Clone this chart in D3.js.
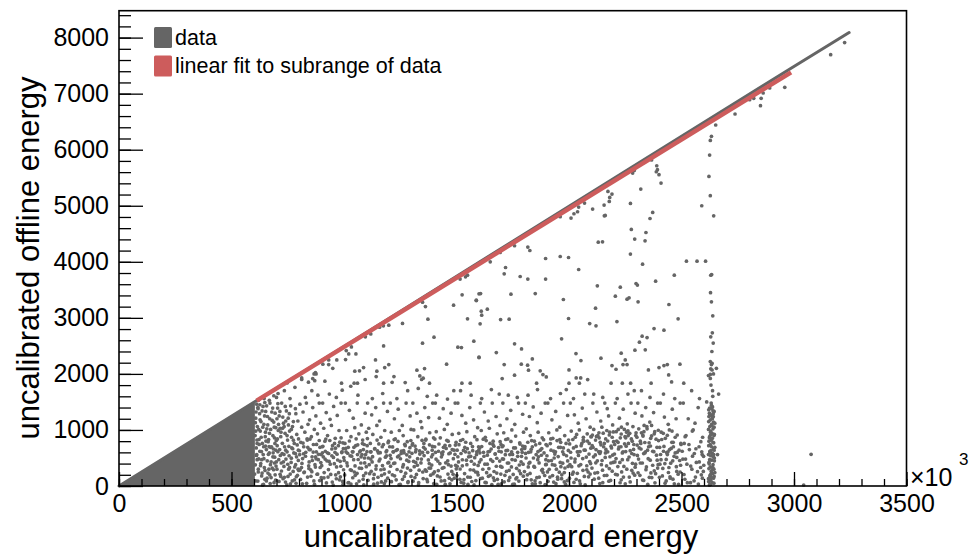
<!DOCTYPE html>
<html><head><meta charset="utf-8">
<script src="https://cdn.jsdelivr.net/npm/d3@7"></script>
<style>
body{margin:0;background:#fff}
svg{display:block}
text{font-family:"Liberation Sans",Arial,Helvetica,sans-serif;fill:#000}
</style>
</head><body>
<svg id="chart" width="969" height="556"></svg>
<script>
// ---------------- data ----------------
const xMajorTicks = [0,500,1000,1500,2000,2500,3000,3500];
const yMajorTicks = [0,1000,2000,3000,4000,5000,6000,7000,8000];
const xDomain = [0,3500];
const yDomain = [0,8480];
const legendLabels = ["data","linear fit to subrange of data"];
const xTitle = "uncalibrated onboard energy";
const yTitle = "uncalibrated offline energy";

// overplotted solid region of points (x < ~600)
const denseTriangle = [[0,0],[604,1507],[604,0]];
// dense ridge of points along the diagonal
const diagonalRidge = [[0,0],[612,1527],[1000,2490],[1650,4115],[2300,5740],[2987,7452],[3245,8090]];
// linear fit (subrange)
const fitLine = [[612,1524],[2987,7381]];

const upperScatter = [
[3225,7911],[3163,7696],[2959,7113],[2892,7101],[2851,6786],[2854,6916],[2863,7012],[2803,6893],[2821,6916],[2738,6637],[2652,6441],[2633,6238],[2628,6166],[2625,5905],[2622,5523],[2628,5179],[2590,5000],[2643,4821],[2607,4012],[2569,4012],[2522,4012],[2634,3773],[2630,3760],[2468,3762],
[2390,5714],[2393,5643],[2388,5607],[2400,5554],[2409,5405],[2367,5816],[2283,5583],[2290,5630],[2319,5298],[2273,5041],[2372,4881],[2360,4773],[2277,4577],[2342,4523],[2292,4405],[2338,4375],[2273,4137],[2327,3958],
[2173,5256],[2191,5208],[2181,5148],[2179,5077],[2156,5012],[2157,4821],[2161,4827],[2105,4941],[2069,5048],[2043,4976],[2038,4893],[2022,4857],[2009,4780],[1961,4804],[2130,4351],[2149,4357],[1817,4262],[1826,4202],[1896,4059],[1961,4095],[1998,4077],[2043,3863],[1718,3898],[1712,3786],[1758,4286],[1650,4000],[1694,4166],[1783,3738],[1817,3691],[1896,3691],
[1516,3691],[1540,3732],[1549,3762],[1525,3411],[1487,3226],[1588,3309],[1549,2982],[1600,3429],[1362,3202],[1349,3280],[1373,2976],[1400,2655],[1349,2548],[1506,2476],[1522,2470],[1577,2583],[1600,2298],[1456,2173],[1176,2500],[1199,2869],[1175,2857],[1158,2834],[1119,2714],[1095,2661],[1033,2482],[1053,2357],[1010,2417],[1021,2357],[968,2250],[1007,2256],[932,2250],[932,2166],[906,2173],[873,2023],[867,2000],[1087,2113],[1069,2054],[1048,2048],[1181,2113],[1199,2166],[1146,2048],[1143,1952],[1222,1952],[1324,2066],[1358,2095],[1337,1964],[1352,1923],[812,1929],[842,1852],[861,1916],[876,2000],[989,1834],[1045,1834],[1060,1834],[1176,1834],[1272,1845],[1380,1834],[1524,1834],[1561,1834],
[2385,3655],[1588,3316],[1607,3434],[1742,3423],[1850,3434],[1975,3327],[2126,3571],[2228,3548],[2298,3613],[2304,3584],[2206,3387],[2258,3334],[2267,3357],[2307,3286],[2444,3238],[2633,3286],[1610,3119],[1612,3048],[1637,3155],[1696,2970],[1734,2976],[1605,2893],[1998,2988],[2118,3173],[2092,2898],[2120,2857],[2213,2934],[2378,2809],[2422,2780],[2485,2982],[2639,3036],[2637,2732],[2630,2661],[1758,2536],[1789,2446],[1967,2625],[2325,2673],[2347,2648],[2313,2566],[2293,2423],[2339,2429],[1677,2381],[1600,2291],[1837,2268],[1712,2166],[1788,2173],[1816,2155],[1820,2066],[1758,1977],[1703,1916],[1872,2054],[1884,1988],[1899,1946],[2031,2363],[2053,2238],[2142,2280],[2000,2071],[2232,2370],[2250,2250],[2240,2166],[2258,2166],[2191,2148],[2209,2083],[2353,2071],[2400,2113],[2422,2148],[2437,2166],[2493,2173],[2443,1982],[2456,1857],[2628,2220],[2633,2166],[2636,2070],[2655,2100],[2620,1970],[2628,1990],[2032,1929],[2052,1929],[2083,1898],[1856,1834],[2000,1834],[2046,1834],[2187,1834],[2237,1834],[2274,1834],[2365,1834],[2510,1834]
];

const lowerBand = [
[612,1460],[618,1380],[625,1290],[608,1210],[631,1150],[640,1420],[652,1330],[660,1240],[671,1480],[683,1390],[694,1300],[615,1060],[628,980],[644,1100],[657,1020],[669,940],[681,1170],[690,1050],[605,900],[622,830],[637,760],[650,880],[663,790],[678,700],[691,860],[610,680],[626,620],[641,560],[655,650],[668,590],[684,520],[697,640],[614,470],[630,400],[646,330],[659,450],[673,380],[687,290],[699,430],[619,250],[634,180],[648,120],[662,230],[676,150],[689,60],[607,90],[642,30],[666,300],[694,200],[700,1580],[688,1610],[620,1530],[645,1560],
[705,1390],[712,1250],[723,1480],[731,1120],[744,1340],[752,1210],[763,1430],[771,1060],[786,1290],[795,1160],[708,990],[719,880],[727,1030],[738,940],[749,820],[758,980],[767,870],[779,760],[790,920],[798,840],[703,720],[714,650],[725,580],[736,700],[747,610],[756,540],[768,680],[777,590],[789,520],[797,640],[710,470],[721,410],[733,350],[742,480],[754,300],[765,420],[774,260],[785,380],[793,190],[716,210],[729,130],[740,70],[751,170],[762,40],[780,110],[796,300],[707,1650],[735,1700],[760,1560],[782,1760],[748,1840],
[804,1460],[818,1320],[833,1480],[847,1180],[861,1400],[875,1250],[890,1480],[812,1050],[826,960],[840,1100],[855,880],[868,1010],[882,930],[896,1120],[808,780],[821,700],[837,820],[850,650],[864,740],[877,610],[893,690],[803,560],[816,490],[830,600],[845,430],[858,520],[871,380],[886,470],[899,560],[811,330],[824,250],[838,160],[852,290],[866,90],[880,210],[894,330],[815,40],[843,360],[874,520],[828,1580],[857,1700],[884,1620],[870,1880],[812,1900],
[905,1480],[921,1310],[938,1190],[954,1420],[970,1260],[987,1480],[910,1030],[927,900],[944,1080],[961,850],[978,990],[995,770],[903,700],[917,620],[932,580],[946,660],[960,600],[975,720],[991,610],[908,520],[924,450],[939,390],[953,510],[967,340],[983,440],[998,290],[912,240],[929,160],[948,70],[963,200],[980,110],[996,30],[915,800],[958,760],[987,860],[935,1640],[966,1580],[992,1710],[950,2100],[915,1870],
[1006,1480],[1024,1350],[1041,1210],[1059,1480],[1077,1090],[1094,1300],[1012,990],[1031,880],[1048,1040],[1066,930],[1083,820],[1099,960],[1004,760],[1019,690],[1037,610],[1052,720],[1070,610],[1086,650],[1009,610],[1027,540],[1043,470],[1060,560],[1075,410],[1091,500],[1015,360],[1033,280],[1050,190],[1068,320],[1085,120],[1097,230],[1021,60],[1056,40],[1040,610],[1080,560],[1090,740],[1062,1620],[1030,1780],[1094,1900],
[1105,1480],[1123,1270],[1141,1400],[1158,1160],[1176,1480],[1193,1330],[1110,1030],[1128,920],[1146,1080],[1164,870],[1181,990],[1198,800],[1103,720],[1120,610],[1136,660],[1153,590],[1170,700],[1187,610],[1108,500],[1125,430],[1143,360],[1160,480],[1178,300],[1195,410],[1114,220],[1131,130],[1149,50],[1167,190],[1185,90],[1118,610],[1155,750],[1189,540],[1126,1560],[1172,1650],[1140,2250],
[1206,1480],[1224,1200],[1241,1370],[1259,1080],[1276,1480],[1294,1250],[1210,960],[1228,840],[1246,990],[1263,900],[1281,790],[1298,1010],[1203,700],[1220,610],[1237,650],[1254,580],[1272,720],[1289,610],[1209,490],[1226,410],[1244,540],[1261,340],[1279,460],[1296,280],[1215,200],[1232,110],[1250,30],[1268,170],[1285,80],[1218,610],[1265,630],[1292,520],[1235,1560],[1283,1700],[1260,2900],[1214,1850],
[1306,1480],[1324,1300],[1341,1150],[1359,1400],[1376,1220],[1394,1480],[1310,1000],[1328,880],[1346,1040],[1363,820],[1381,950],[1398,860],[1303,730],[1320,650],[1337,570],[1354,690],[1372,600],[1389,520],[1309,440],[1326,370],[1344,480],[1361,290],[1379,400],[1396,220],[1315,150],[1332,60],[1350,250],[1368,120],[1385,320],[1318,610],[1355,760],[1392,640],[1330,1740],[1370,1600],[1345,1900],
[1406,1480],[1424,1210],[1441,1380],[1459,1100],[1476,1300],[1494,1480],[1410,970],[1428,860],[1446,1010],[1463,800],[1481,920],[1498,780],[1403,700],[1420,620],[1437,560],[1454,670],[1472,590],[1489,640],[1409,480],[1426,400],[1444,330],[1461,450],[1479,260],[1496,370],[1415,180],[1432,90],[1450,30],[1468,140],[1485,210],[1440,610],[1470,720],[1412,1620],[1460,1550],[1488,1700],
[1506,1480],[1524,1260],[1541,1120],[1559,1400],[1576,1180],[1594,1040],[1510,940],[1528,830],[1546,970],[1563,760],[1581,880],[1598,700],[1503,640],[1520,580],[1537,690],[1554,520],[1572,630],[1589,560],[1509,430],[1526,360],[1544,460],[1561,290],[1579,390],[1596,200],[1515,120],[1532,50],[1550,160],[1568,80],[1585,250],[1540,610],[1590,610],[1518,1700],[1565,1620],
[1606,1480],[1624,1320],[1641,1160],[1659,1480],[1676,1240],[1694,1080],[1610,990],[1628,870],[1646,1030],[1663,800],[1681,930],[1698,740],[1603,680],[1620,600],[1637,550],[1654,660],[1672,570],[1689,620],[1609,470],[1626,390],[1644,310],[1661,440],[1679,230],[1696,350],[1615,140],[1632,60],[1650,190],[1668,100],[1685,30],[1640,610],[1666,710],[1612,1560],[1655,1720],[1690,1640],
[1706,1480],[1724,1200],[1741,1350],[1759,1100],[1776,1480],[1794,1280],[1710,950],[1728,840],[1746,1000],[1763,890],[1781,770],[1798,960],[1703,700],[1720,630],[1737,560],[1754,680],[1772,600],[1789,530],[1709,480],[1726,410],[1744,340],[1761,460],[1779,270],[1796,390],[1715,190],[1732,100],[1750,30],[1768,150],[1785,220],[1745,610],[1790,650],[1730,1620],[1770,1580],
[1806,1480],[1824,1240],[1841,1410],[1859,1130],[1876,1300],[1894,1480],[1810,1020],[1828,900],[1846,800],[1863,960],[1881,860],[1898,740],[1803,670],[1820,600],[1837,700],[1854,560],[1872,640],[1889,590],[1809,500],[1826,420],[1844,350],[1861,470],[1879,280],[1896,380],[1815,200],[1832,110],[1850,40],[1868,160],[1885,240],[1830,610],[1870,760],[1818,1620],[1860,1720],
[1906,1480],[1924,1180],[1941,1330],[1959,1050],[1976,1480],[1994,1260],[1910,950],[1928,850],[1946,1000],[1963,780],[1981,900],[1998,820],[1903,720],[1920,640],[1937,570],[1954,690],[1972,610],[1989,540],[1909,450],[1926,380],[1944,300],[1961,420],[1979,240],[1996,350],[1915,160],[1932,70],[1950,120],[1968,200],[1985,30],[1940,610],[1975,680],[1918,1560],[1962,1650],[1988,1720],
[2006,1480],[2024,1270],[2041,1120],[2059,1390],[2076,1200],[2094,1050],[2010,980],[2028,870],[2046,1000],[2063,820],[2081,930],[2098,880],[2003,750],[2020,680],[2037,610],[2054,720],[2072,640],[2089,570],[2009,500],[2026,430],[2044,360],[2061,490],[2079,290],[2096,400],[2015,210],[2032,120],[2050,40],[2068,170],[2085,250],[2040,610],[2066,800],[2090,760],[2020,1560],[2070,1640],
[2106,1480],[2124,1320],[2141,1160],[2159,1480],[2176,1250],[2194,1090],[2110,1010],[2128,900],[2146,1050],[2163,840],[2181,960],[2198,790],[2103,720],[2120,650],[2137,580],[2154,700],[2172,610],[2189,680],[2109,520],[2126,450],[2144,380],[2161,510],[2179,310],[2196,420],[2115,230],[2132,140],[2150,60],[2168,190],[2185,100],[2140,610],[2118,820],[2157,760],[2192,870],[2133,950],[2170,1380],[2110,1640],[2150,1580],
[2206,1480],[2224,1210],[2241,1370],[2259,1110],[2276,1480],[2294,1300],[2210,970],[2228,860],[2246,1010],[2263,900],[2281,800],[2298,950],[2203,740],[2220,660],[2237,590],[2254,710],[2272,630],[2289,560],[2209,490],[2226,420],[2244,350],[2261,470],[2279,280],[2296,390],[2215,200],[2232,110],[2250,40],[2268,160],[2285,230],[2240,610],[2218,780],[2252,860],[2288,740],[2233,1050],[2270,940],[2214,1560],[2262,1640],[2290,1700],
[2306,1480],[2324,1250],[2341,1400],[2359,1140],[2376,1310],[2394,1480],[2310,1020],[2328,910],[2346,1060],[2363,850],[2381,970],[2398,810],[2303,730],[2320,660],[2337,590],[2354,700],[2372,620],[2389,550],[2309,480],[2326,410],[2344,340],[2361,460],[2379,270],[2396,380],[2315,190],[2332,100],[2350,30],[2368,150],[2385,220],[2340,610],[2317,800],[2356,770],[2391,690],[2333,970],[2367,1080],[2322,1700],[2360,1580],
[2406,1480],[2424,1230],[2441,1100],[2459,1370],[2476,1200],[2494,1480],[2410,960],[2428,850],[2446,1000],[2463,780],[2481,910],[2498,740],[2403,690],[2420,620],[2437,560],[2454,670],[2472,590],[2489,640],[2409,470],[2426,400],[2444,330],[2461,450],[2479,260],[2496,370],[2415,180],[2432,90],[2450,140],[2468,40],[2485,210],[2440,610],[2420,1640],[2470,1560],
[2508,1480],[2530,1200],[2552,1000],[2574,1400],[2594,870],[2512,760],[2535,650],[2557,580],[2578,700],[2598,530],[2506,480],[2524,390],[2546,300],[2566,420],[2588,200],[2515,120],[2540,60],[2562,160],[2585,330],[2520,900],[2560,1120],[2545,1700],[2580,1560],[2597,260],[2590,610]
];

// extra points filling the crowded band below ~850
const lowerBandDense = [
[603,212],[611,545],[617,88],[623,742],[629,361],[633,615],[638,19],[644,488],[649,277],[653,801],[658,140],[664,566],[667,702],[672,45],[676,431],[681,318],[686,660],[692,515],[696,104],[699,812],[606,377],[621,483],[636,230],[651,712],[670,197],[685,592],[698,356],[613,821],
[702,301],[706,613],[711,82],[717,544],[722,268],[726,761],[731,432],[735,155],[741,640],[746,22],[750,388],[755,707],[761,213],[766,497],[770,90],[775,818],[781,341],[784,579],[788,165],[792,733],[797,456],[704,839],[719,171],[733,564],[758,331],[772,665],[787,49],[799,277],
[802,629],[807,117],[813,402],[818,766],[822,239],[829,531],[834,48],[839,690],[844,312],[849,838],[853,174],[859,455],[863,605],[869,29],[873,338],[878,742],[883,213],[887,566],[892,96],[897,418],[805,288],[820,575],[836,842],[857,256],[876,484],[890,812],[899,150],[845,650],
[901,362],[906,707],[911,145],[916,481],[922,55],[926,593],[931,293],[937,812],[941,207],[946,540],[952,15],[957,398],[962,674],[966,129],[972,464],[976,237],[981,782],[986,352],[990,596],[994,81],[999,507],[904,593],[919,838],[934,438],[949,719],[969,568],[984,163],[997,666],
[1003,198],[1008,672],[1013,412],[1018,58],[1024,803],[1028,290],[1034,533],[1039,147],[1044,690],[1049,359],[1054,842],[1058,226],[1063,473],[1067,88],[1073,629],[1078,315],[1082,757],[1087,184],[1092,411],[1096,560],[1001,455],[1016,584],[1031,36],[1046,250],[1061,735],[1076,520],[1088,22],[1099,345],
[1102,612],[1107,102],[1112,380],[1117,760],[1121,261],[1127,524],[1132,33],[1137,669],[1142,302],[1147,820],[1151,156],[1156,448],[1161,594],[1166,72],[1171,365],[1175,739],[1180,218],[1184,515],[1190,631],[1194,140],[1199,420],[1104,846],[1119,480],[1134,206],[1149,626],[1164,290],[1179,43],[1196,772],
[1201,248],[1205,547],[1211,77],[1216,698],[1221,402],[1225,181],[1231,633],[1236,294],[1240,796],[1245,26],[1251,486],[1255,621],[1260,119],[1264,380],[1270,744],[1274,229],[1279,557],[1284,61],[1288,439],[1293,684],[1298,170],[1207,353],[1223,828],[1238,521],[1253,262],[1267,591],[1282,320],[1297,812],
[1302,583],[1307,86],[1312,344],[1316,712],[1322,207],[1327,488],[1331,20],[1336,626],[1342,411],[1347,815],[1352,132],[1356,543],[1361,658],[1366,264],[1371,78],[1375,466],[1380,735],[1385,193],[1390,374],[1394,560],[1399,45],[1305,755],[1319,420],[1334,283],[1349,600],[1364,836],[1378,320],[1393,706],
[1402,252],[1407,601],[1412,30],[1417,444],[1422,749],[1427,161],[1433,520],[1437,318],[1442,690],[1447,95],[1452,413],[1457,815],[1462,212],[1466,575],[1471,39],[1476,355],[1481,650],[1486,488],[1490,140],[1495,731],[1499,307],[1404,838],[1419,275],[1434,587],[1449,725],[1464,380],[1479,110],[1493,566],
[1501,190],[1506,522],[1511,738],[1516,303],[1521,64],[1526,468],[1531,635],[1536,222],[1541,781],[1546,381],[1551,28],[1556,592],[1561,156],[1566,442],[1571,703],[1576,285],[1581,505],[1586,96],[1591,826],[1596,367],[1599,640],[1503,352],[1518,812],[1533,115],[1548,666],[1563,530],[1578,20],[1593,245],
[1602,426],[1607,133],[1612,705],[1617,299],[1622,531],[1627,64],[1632,810],[1637,390],[1642,172],[1647,619],[1652,470],[1657,27],[1662,742],[1667,259],[1672,575],[1677,352],[1682,119],[1687,685],[1692,445],[1697,212],[1604,592],[1619,835],[1634,238],[1649,760],[1664,145],[1679,495],[1694,790],[1699,40],
[1702,336],[1707,718],[1712,74],[1717,559],[1722,260],[1727,637],[1732,410],[1737,153],[1742,796],[1747,472],[1752,207],[1757,33],[1762,680],[1767,315],[1772,529],[1777,88],[1782,748],[1787,431],[1792,601],[1797,176],[1704,483],[1719,830],[1734,280],[1749,564],[1764,128],[1779,375],[1794,712],[1699,610],
[1802,258],[1807,582],[1812,112],[1817,781],[1822,406],[1827,225],[1832,655],[1837,39],[1842,500],[1847,336],[1852,735],[1857,148],[1862,612],[1867,412],[1872,60],[1877,549],[1882,299],[1887,827],[1892,187],[1897,470],[1804,704],[1819,340],[1834,810],[1849,94],[1864,520],[1879,668],[1894,27],[1899,385],
[1902,540],[1907,83],[1912,298],[1917,757],[1922,454],[1927,186],[1932,622],[1937,372],[1942,41],[1947,810],[1952,525],[1957,247],[1962,690],[1967,131],[1972,408],[1977,566],[1982,321],[1987,760],[1992,95],[1997,634],[1904,251],[1919,840],[1934,500],[1949,158],[1964,345],[1979,72],[1994,447],[1959,830],
[2002,139],[2007,602],[2012,345],[2017,830],[2022,64],[2027,480],[2032,706],[2037,226],[2042,545],[2047,91],[2052,382],[2057,760],[2062,279],[2067,641],[2072,19],[2077,516],[2082,802],[2087,164],[2092,437],[2097,675],[2004,384],[2019,247],[2034,920],[2049,615],[2064,870],[2079,361],[2094,212],[2099,880],
[2102,320],[2107,688],[2112,121],[2117,555],[2122,884],[2127,240],[2132,612],[2137,44],[2142,735],[2147,455],[2152,942],[2157,187],[2162,590],[2167,358],[2172,803],[2177,86],[2182,522],[2187,711],[2192,265],[2197,965],[2104,910],[2119,413],[2134,860],[2149,282],[2164,652],[2179,910],[2194,552],[2139,780],[2168,990],[2186,410],
[2202,571],[2207,208],[2212,802],[2217,347],[2222,695],[2227,58],[2232,928],[2237,469],[2242,160],[2247,752],[2252,615],[2257,301],[2262,985],[2267,517],[2272,73],[2277,840],[2282,405],[2287,652],[2292,194],[2297,900],[2204,430],[2219,1010],[2234,251],[2249,880],[2264,760],[2279,580],[2294,335],[2231,700],[2256,960],[2284,1060],
[2302,870],[2307,236],[2312,680],[2317,410],[2322,950],[2327,107],[2332,578],[2337,776],[2342,292],[2347,1020],[2352,488],[2357,155],[2362,714],[2367,894],[2372,370],[2377,612],[2382,57],[2387,835],[2392,460],[2397,995],[2304,545],[2319,760],[2334,1080],[2349,640],[2364,234],[2379,930],[2394,320],[2329,890],
[2402,155],[2407,562],[2412,830],[2417,314],[2422,706],[2427,51],[2432,475],[2437,905],[2442,241],[2447,650],[2452,408],[2457,780],[2462,122],[2467,530],[2472,870],[2477,345],[2482,605],[2487,30],[2492,455],[2497,760],[2404,390],[2419,940],[2434,598],[2449,165],[2464,700],[2479,510],[2494,250],[2458,980],
[2503,620],[2511,205],[2518,480],[2526,60],[2533,740],[2541,355],[2549,532],[2556,92],[2564,665],[2571,255],[2579,430],[2586,790],[2593,140],[2599,370],[2516,880],[2548,980],[2575,35],[2592,560]
];

// crowded strip just right of the solid region
const triangleEdge = [
[606,1130],[609,1320],[614,760],[617,1400],[621,1010],[627,1180],[632,870],[636,1340],[639,1050],[643,700],[647,1250],[651,960],[656,1430],[661,1090],[665,830],[670,1200],[674,1010],[679,1320],[684,900],[688,1140],[693,760],[697,1040],[702,1200],[709,1100],[715,1330],[720,960],[728,1230],[734,1060],[741,1160],[747,900],[757,1290],[766,1010],[775,1150],[784,1380],[608,980],[626,1450],[648,1490],[668,1530],[612,560],[619,300],[634,470],[655,90],[674,690],[691,410],[706,1470],[716,1030],[739,1420],[753,1090]
];

const columnPoints = [
[2624,20],[2636,60],[2630,100],[2642,140],[2626,180],[2638,220],[2632,260],[2644,300],[2628,340],[2640,380],[2622,420],[2634,460],[2646,500],[2630,540],[2638,580],[2626,620],[2642,660],[2634,700],[2628,740],[2640,780],[2632,820],[2624,860],[2644,900],[2636,940],[2630,980],[2640,1020],[2626,1060],[2634,1100],[2642,1140],[2628,1180],[2638,1220],[2632,1260],[2624,1300],[2640,1340],[2634,1380],[2644,50],[2620,130],[2648,240],[2622,310],[2646,450],[2620,560],[2648,690],[2622,800],[2646,920],[2620,1010],[2648,1120],[2622,1240],[2632,1480],[2638,1700],[2628,1920],[2642,2000],[2630,2090],[2636,2190],[2660,560],[2665,1640],[2612,1500],
[2621,80],[2645,170],[2629,205],[2637,290],[2623,395],[2641,520],[2627,600],[2645,640],[2621,720],[2637,850],[2629,960],[2645,1050],[2621,1150],[2637,1200],[2627,1280],[2645,1330],[2621,1360],[2638,1410],[2629,30],[2643,560],[2625,880],[2641,1240],
[2627,30],[2633,150],[2639,330],[2625,470],[2631,630],[2643,770],[2629,910],[2635,1080],[2641,1290],[2625,1390],[2633,1440],[2639,1600],[2631,1800],[2635,2400],[2641,2550],[2629,3450]
];

const outliers = [[3076,566],[3043,18]];

// ---------------- drawing ----------------
const svg = d3.select("#chart");
const x = d3.scaleLinear().domain(xDomain).range([119,906.5]);
const y = d3.scaleLinear().domain(yDomain).range([486,10.7]);
const GRAY = "#656565", RED = "#cd5c5c";

// dense region
svg.append("path").datum(denseTriangle)
  .attr("d", d3.line().x(d=>x(d[0])).y(d=>y(d[1])).curve(d3.curveLinearClosed))
  .attr("fill", GRAY);

const allPts = [].concat(lowerBand, lowerBandDense, triangleEdge, upperScatter, columnPoints, outliers);
svg.append("g").selectAll("circle").data(allPts).join("circle")
  .attr("cx", d=>x(d[0])).attr("cy", d=>y(d[1])).attr("r", 1.85).attr("fill", GRAY);

// ridge
svg.append("path").datum(diagonalRidge)
  .attr("d", d3.line().x(d=>x(d[0])).y(d=>y(d[1])))
  .attr("fill","none").attr("stroke",GRAY).attr("stroke-width",3).attr("stroke-linecap","round");

// fit
svg.append("path").datum(fitLine)
  .attr("d", d3.line().x(d=>x(d[0])).y(d=>y(d[1])))
  .attr("fill","none").attr("stroke",RED).attr("stroke-width",4.5);

// axes
const fs = "25px";
svg.append("g").attr("transform","translate(0,486)")
  .call(d3.axisBottom(x).tickValues(xMajorTicks).tickSize(-14).tickPadding(8).tickFormat(d3.format("d")));
svg.append("g").attr("transform","translate(0,486)")
  .call(d3.axisBottom(x).tickValues(d3.range(0,3501,100)).tickSize(-7).tickFormat(""));
svg.append("g").attr("transform","translate(119,0)")
  .call(d3.axisLeft(y).tickValues(yMajorTicks).tickSize(-24).tickPadding(10).tickFormat(d3.format("d")));
svg.append("g").attr("transform","translate(119,0)")
  .call(d3.axisLeft(y).tickValues(d3.range(0,8401,200)).tickSize(-12).tickFormat(""));
svg.selectAll(".domain").remove();
svg.selectAll(".tick line").attr("stroke","#000").attr("stroke-width",1.3);
svg.selectAll(".tick text").attr("font-size",fs).attr("font-family",'"Liberation Sans",Arial,sans-serif').attr("fill","#000");

// frame
svg.append("rect").attr("x",x(xDomain[0])).attr("y",y(yDomain[1]))
  .attr("width",x(xDomain[1])-x(xDomain[0])).attr("height",y(yDomain[0])-y(yDomain[1]))
  .attr("fill","none").attr("stroke","#000").attr("stroke-width",1.6);

// exponent
svg.append("text").attr("x",910).attr("y",486).attr("font-size",fs).text("\u00d710");
svg.append("text").attr("x",959).attr("y",465).attr("font-size","17px").text("3");

// titles
svg.append("text").attr("x",501).attr("y",547).attr("text-anchor","middle").attr("font-size","31px").text(xTitle);
svg.append("text").attr("transform","translate(38.5,258) rotate(-90)").attr("text-anchor","middle").attr("font-size","31px").text(yTitle);

// legend
const legColors = [GRAY, RED];
const leg = svg.append("g");
legendLabels.forEach((lab,i)=>{
  leg.append("rect").attr("x",154).attr("y",27+i*28.5).attr("width",18).attr("height",21).attr("rx",1.5).attr("fill",legColors[i]);
  leg.append("text").attr("x",175).attr("y",44.5+i*28).attr("font-size","21.5px").text(lab);
});
</script>
</body></html>
